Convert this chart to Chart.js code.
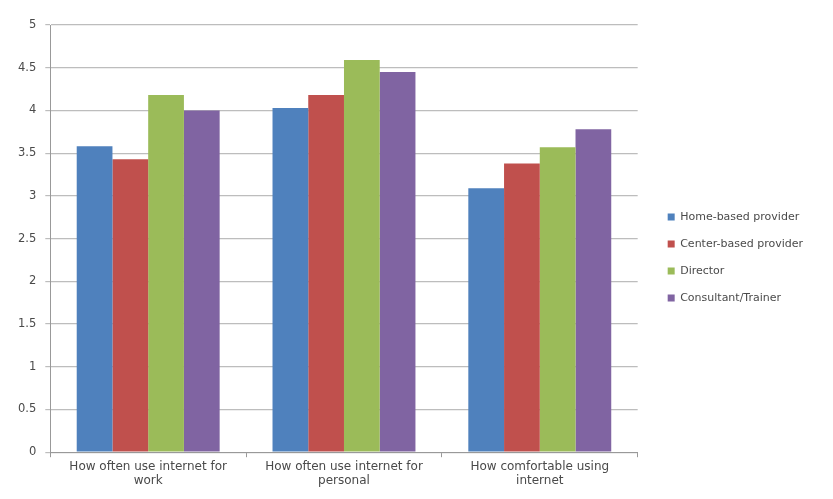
<!DOCTYPE html>
<html>
<head>
<meta charset="utf-8">
<script src="https://cdn.jsdelivr.net/npm/chart.js@4/dist/chart.umd.min.js"></script>
<style>
  html, body { margin: 0; padding: 0; background: #fff; }
  #wrap { width: 833px; height: 499px; }
</style>
</head>
<body>
<div id="wrap"><canvas id="c" width="833" height="499"></canvas></div>
<script>
// Survey averages by role
const categories = [
  ["How often use internet for", "work"],
  ["How often use internet for", "personal"],
  ["How comfortable using", "internet"]
];
const seriesNames = ["Home-based provider", "Center-based provider", "Director", "Consultant/Trainer"];
const homeBased   = [3.58, 4.03, 3.09];
const centerBased = [3.43, 4.18, 3.38];
const director    = [4.18, 4.59, 3.57];
const consultant  = [4.00, 4.45, 3.78];
const yTicks = [0, 0.5, 1, 1.5, 2, 2.5, 3, 3.5, 4, 4.5, 5];

const colors = ["#4F81BD", "#C0504D", "#9BBB59", "#8064A2"];
const values = [homeBased, centerBased, director, consultant];

const FONT = "'DejaVu Sans', sans-serif";
const textColor = "#4a4a4a";

// leave a little gap between the plot area and the legend column
const legendGap = {
  id: "legendGap",
  afterLayout(chart) {
    const lg = chart.legend;
    if (lg) { lg.left += 14; lg.right += 14; }
  }
};

new Chart(document.getElementById("c"), {
  type: "bar",
  data: {
    labels: categories,
    datasets: seriesNames.map((name, i) => ({
      label: name,
      data: values[i],
      backgroundColor: colors[i],
      borderWidth: 0,
      barPercentage: 1.0,
      categoryPercentage: 0.73
    }))
  },
  options: {
    responsive: false,
    animation: false,
    layout: { padding: { top: 25, left: 9, right: 34, bottom: 9 } },
    plugins: {
      legend: {
        position: "right",
        labels: {
          boxWidth: 7,
          boxHeight: 7,
          padding: 16,
          color: textColor,
          font: { family: FONT, size: 11 }
        }
      },
      tooltip: { enabled: false }
    },
    scales: {
      x: {
        grid: { display: true, drawOnChartArea: false, offset: true, color: "#999", tickLength: 5 },
        border: { color: "#999" },
        ticks: { color: textColor, font: { family: FONT, size: 12 }, maxRotation: 0, padding: 2 }
      },
      y: {
        min: 0,
        max: 5,
        afterBuildTicks: (axis) => { axis.ticks = yTicks.map(v => ({ value: v })); },
        grid: { color: "#bdbdbd", tickLength: 5, lineWidth: 1.2 },
        border: { color: "#999" },
        ticks: {
          color: textColor,
          font: { family: FONT, size: 11.5 },
          padding: 9,
          callback: (v) => String(v)
        }
      }
    }
  },
  plugins: [legendGap]
});
</script>
</body>
</html>
